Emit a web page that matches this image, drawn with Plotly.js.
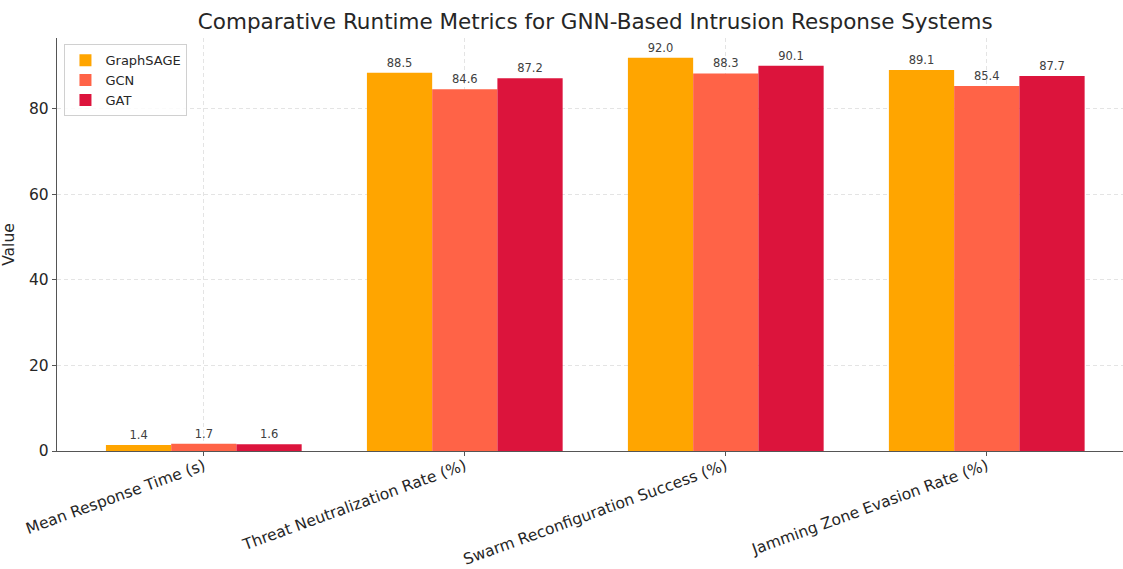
<!DOCTYPE html>
<html>
<head>
<meta charset="utf-8">
<script src="https://cdn.plot.ly/plotly-3.0.1.min.js"></script>
<style>html,body{margin:0;padding:0;background:#fff;}#chart{width:1123px;height:569px;}</style>
</head>
<body>
<div id="chart"></div>
<script>
const categories = ["Mean Response Time (s)", "Threat Neutralization Rate (%)", "Swarm Reconfiguration Success (%)", "Jamming Zone Evasion Rate (%)"];
const seriesNames = ["GraphSAGE", "GCN", "GAT"];
const graphsage = [1.4, 88.5, 92.0, 89.1];
const gcn = [1.7, 84.6, 88.3, 85.4];
const gat = [1.6, 87.2, 90.1, 87.7];
const colors = ["#FFA500", "#FF6347", "#DC143C"];
const yTicks = [0, 20, 40, 60, 80];

const font = "DejaVu Sans, sans-serif";
const data = [graphsage, gcn, gat].map((vals, i) => ({
  type: "bar",
  name: seriesNames[i],
  x: categories,
  y: vals,
  marker: {color: colors[i]},
  text: vals.map(v => v.toFixed(1)),
  textposition: "outside",
  textfont: {family: font, size: 11.5, color: "#404040"},
  cliponaxis: false,
  hoverinfo: "x+y"
}));

const layout = {
  width: 1123, height: 569,
  margin: {l: 57, r: 0, t: 38, b: 118},
  paper_bgcolor: "#fff", plot_bgcolor: "#fff",
  barmode: "group", bargap: 0.25, bargroupgap: 0,
  title: {text: "Comparative Runtime Metrics for GNN-Based Intrusion Response Systems",
          font: {family: font, size: 21.5, color: "#262626"}, x: 0.53, xanchor: "center", y: 0.962, yanchor: "middle"},
  xaxis: {
    type: "category", range: [-0.5625, 3.522],
    tickangle: -20, tickfont: {family: font, size: 15.5, color: "#262626"},
    ticklabelstandoff: -5,
    showline: true, linecolor: "#555", linewidth: 1.2,
    ticks: "outside", ticklen: 4, tickcolor: "#555",
    showgrid: true, gridcolor: "#dddddd", griddash: "4px,3px", gridwidth: 0.8,
    zeroline: false
  },
  yaxis: {
    range: [0, 96.6], tickvals: yTicks, ticktext: yTicks.map(String),
    tickfont: {family: font, size: 15.5, color: "#262626"},
    title: {text: "Value", font: {family: font, size: 15.5, color: "#262626"}, standoff: 12},
    showline: true, linecolor: "#555", linewidth: 1.2,
    ticks: "outside", ticklen: 4, tickcolor: "#555",
    showgrid: true, gridcolor: "#dddddd", griddash: "4px,3px", gridwidth: 0.8,
    zeroline: false
  },
  legend: {
    x: 0.007, y: 0.985, xanchor: "left", yanchor: "top",
    bgcolor: "rgba(255,255,255,0.85)", bordercolor: "#d0d0d0", borderwidth: 1,
    font: {family: font, size: 13, color: "#262626"}, tracegroupgap: 2
  },
  showlegend: true
};

Plotly.newPlot("chart", data, layout, {displayModeBar: false, staticPlot: true});
</script>
</body>
</html>
